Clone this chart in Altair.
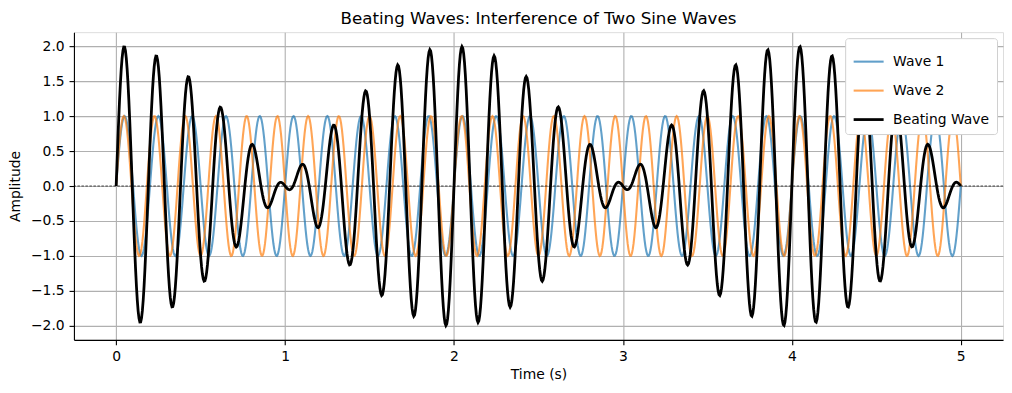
import numpy as np
import pandas as pd
import altair as alt

# Parameters
series_names = ["Wave 1", "Wave 2", "Beating Wave"]
series_colors = ["#1f77b4", "#ff7f0e", "#000000"]
series_widths = [2.08, 2.08, 2.78]
series_opacity = [0.7, 0.7, 1.0]
frequencies_hz = [5.0, 5.5]        # Wave 1 (blue), Wave 2 (orange)
amplitudes = [1.0, 1.0]
duration_s = [0.0, 5.0]
n_samples = 1000
x_ticks = [0, 1, 2, 3, 4, 5]
y_ticks = [-2.0, -1.5, -1.0, -0.5, 0.0, 0.5, 1.0, 1.5, 2.0]

t = np.linspace(duration_s[0], duration_s[1], n_samples)
w1 = amplitudes[0] * np.sin(2 * np.pi * frequencies_hz[0] * t)
w2 = amplitudes[1] * np.sin(2 * np.pi * frequencies_hz[1] * t)
beat = w1 + w2

df = pd.concat([
    pd.DataFrame({"t": t, "y": w1, "series": series_names[0]}),
    pd.DataFrame({"t": t, "y": w2, "series": series_names[1]}),
    pd.DataFrame({"t": t, "y": beat, "series": series_names[2]}),
])

zero_df = pd.DataFrame({"y": [0.0]})

FONT = "DejaVu Sans"
FS = 13.9

axis_style = dict(
    grid=True, gridColor="#b0b0b0", gridWidth=1.1, gridOpacity=1,
    domainColor="black", domainWidth=1.1,
    tickColor="black", tickSize=4.9, tickWidth=1.1,
    labelFont=FONT, labelFontSize=FS, labelColor="black", labelPadding=4.9,
    titleFont=FONT, titleFontSize=FS, titleColor="black", titleFontWeight="normal",
    labelOverlap=False,
)

x_enc = alt.X("t:Q", scale=alt.Scale(domain=[-0.25, 5.25], nice=False, zero=False),
              axis=alt.Axis(title="Time (s)", values=x_ticks, format="d", titlePadding=4, **axis_style))
y_axis = alt.Axis(title="Amplitude", values=y_ticks, format=".1f", titlePadding=8, **axis_style)
y_scale = alt.Scale(domain=[-2.2, 2.2], nice=False)
y_enc = alt.Y("y:Q", scale=y_scale, axis=y_axis)

color_scale = alt.Scale(domain=series_names, range=series_colors)
width_scale = alt.Scale(type="ordinal", domain=series_names, range=series_widths)
opac_scale = alt.Scale(type="ordinal", domain=series_names, range=series_opacity)

legend = alt.Legend(title=None, orient="top-right", symbolType="stroke", symbolSize=900,
                    fillColor="white", strokeColor="#d0d0d0", cornerRadius=3, padding=7,
                    labelFontSize=FS, labelFont=FONT, offset=6, rowPadding=5,
                    labelColor="black", labelOffset=8)

def layer_for(name):
    return alt.Chart(df).transform_filter(alt.datum.series == name).mark_line().encode(
        x=x_enc, y=y_enc,
        color=alt.Color("series:N", scale=color_scale, legend=legend),
        strokeWidth=alt.StrokeWidth("series:N", scale=width_scale, legend=legend),
        opacity=alt.Opacity("series:N", scale=opac_scale, legend=legend),
    )

zero_line = alt.Chart(zero_df).mark_rule(color="black", strokeWidth=0.7, strokeDash=[2.5, 1.5]).encode(
    y=alt.Y("y:Q", scale=y_scale, axis=y_axis))

chart = alt.layer(
    layer_for("Wave 1"), layer_for("Wave 2"), layer_for("Beating Wave"), zero_line
).properties(
    width=930, height=308,
    padding={"left": 0, "top": 3, "right": 0, "bottom": 0},
    title=alt.Title("Beating Waves: Interference of Two Sine Waves", fontSize=16.7,
                    font=FONT, fontWeight="normal", color="black", offset=4),
).configure_view(stroke="black", strokeWidth=1.1).configure(background="white")

chart.save("out.html", embed_options={"renderer": "svg", "actions": False})
